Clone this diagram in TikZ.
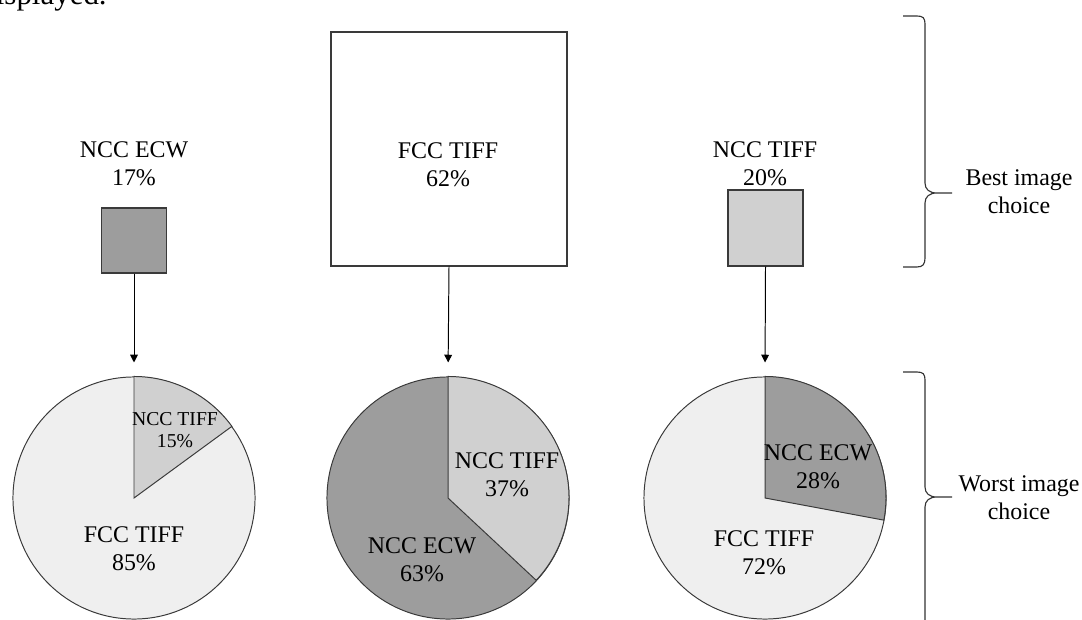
\documentclass[tikz,border=0pt]{standalone}
\usepackage{fontspec}
\setmainfont{Liberation Serif}
\usetikzlibrary{arrows.meta}

\definecolor{ecwgray}{HTML}{9D9D9D}
\definecolor{tiffgray}{HTML}{D0D0D0}
\definecolor{fccgray}{HTML}{EFEFEF}
\definecolor{edgegray}{HTML}{3A3A3A}

\begin{document}
\begin{tikzpicture}[x=0.025cm, y=0.025cm,
    txt/.style={font=\fontsize{17}{20}\selectfont, align=center, inner sep=0pt},
    smalltxt/.style={font=\fontsize{14}{15.5}\selectfont, align=center, inner sep=0pt},
    choicebox/.style={draw=edgegray, line width=0.9pt, inner sep=0pt},
    pie/.style={circle, draw=edgegray, line width=0.7pt, inner sep=0pt, minimum size=6.05cm},
    slice/.style={draw=edgegray, line width=0.7pt},
    brace/.style={line width=0.8pt, draw=black!80}]
    \useasboundingbox (0,0) rectangle (1082,619);

    % Text cut off at the top
    \node[anchor=base east, inner sep=0pt, font=\fontsize{22}{26}\selectfont] (lead) at (107,614) {displayed.};

    % Best image choice
    \node[txt] (labA) at (134,455) {NCC ECW\\17\%};
    \node[choicebox, fill=ecwgray, minimum width=1.625cm, minimum height=1.625cm] (boxA) at (134,378.5) {};
    \node[choicebox, minimum width=5.9cm, minimum height=5.85cm] (boxB) at (449,470) {};
    \node[txt] (labB) at (448,454) {FCC TIFF\\62\%};
    \node[txt] (labC) at (765,455) {NCC TIFF\\20\%};
    \node[choicebox, fill=tiffgray, minimum width=1.875cm, minimum height=1.9cm] (boxC) at (765.5,391) {};

    % Worst image choice
    \node[pie, fill=fccgray] (pieA) at (134,121) {};
    \draw[slice, fill=tiffgray] (pieA.center) -- (pieA.north) arc[start angle=90, end angle=36, radius=121] -- cycle;
    \node[smalltxt] (pieAtiff) at (175,189) {NCC TIFF\\15\%};
    \node[txt] (pieAfcc) at (134,70) {FCC TIFF\\85\%};

    \node[pie, fill=ecwgray] (pieB) at (448,121) {};
    \draw[slice, fill=tiffgray] (pieB.center) -- (pieB.north) arc[start angle=90, end angle=-43.2, radius=121] -- cycle;
    \node[txt] (pieBtiff) at (507,144) {NCC TIFF\\37\%};
    \node[txt] (pieBecw) at (422,59) {NCC ECW\\63\%};

    \node[pie, fill=fccgray] (pieC) at (765,121) {};
    \draw[slice, fill=ecwgray] (pieC.center) -- (pieC.north) arc[start angle=90, end angle=-10.8, radius=121] -- cycle;
    \node[txt] (pieCecw) at (818,152) {NCC ECW\\28\%};
    \node[txt] (pieCfcc) at (764,66) {FCC TIFF\\72\%};

    % Arrows
    \foreach \b/\p in {boxA/pieA, boxB/pieB, boxC/pieC} {
        \draw[-{Triangle[length=5.5pt, width=5.5pt]}, line width=0.7pt, shorten >=0.35cm] (\b.south) -- (\p.north);
    }

    % Braces
    \draw[brace] (903,603) -- (917,603) .. controls (923,603) and (925,601) .. (925,595)
        -- (925,436) .. controls (925,430) and (929,426) .. (937,426) -- (952,426)
        (937,426) .. controls (929,426) and (925,422) .. (925,416)
        -- (925,361) .. controls (925,355) and (923,352) .. (917,352) -- (903,352);
    \node[txt] (best) at (1019,427.5) {Best image\\choice};

    \draw[brace] (903,247) -- (917,247) .. controls (923,247) and (925,245) .. (925,239)
        -- (925,132) .. controls (925,126) and (929,122) .. (937,122) -- (952,122)
        (937,122) .. controls (929,122) and (925,118) .. (925,112)
        -- (925,-5);
    \node[txt] (worst) at (1019,121) {Worst image\\choice};
\end{tikzpicture}
\end{document}
